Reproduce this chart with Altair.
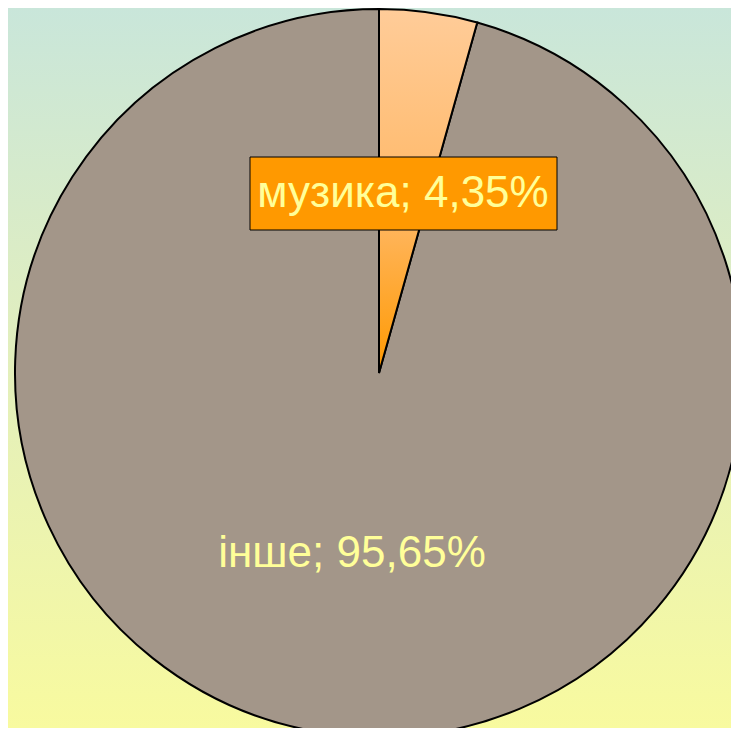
import altair as alt
import pandas as pd

categories = ["музика", "інше"]
values = [4.35, 95.65]
label_text_color = "#FFFF99"

df = pd.DataFrame({
    "category": categories,
    "value": values,
    "order": list(range(len(categories))),
})
df["label"] = [f"{c}; {v:.2f}%".replace(".", ",") for c, v in zip(categories, values)]

W, H = 723, 720
CX, CY, R = 371, 365, 364

bg_grad = {
    "gradient": "linear", "x1": 0, "y1": 0, "x2": 0, "y2": 1,
    "stops": [
        {"offset": 0, "color": "#C9E6DA"},
        {"offset": 0.5, "color": "#E3EFBC"},
        {"offset": 1, "color": "#F8FA9F"},
    ],
}
music_grad = {
    "gradient": "linear", "x1": 0, "y1": 0, "x2": 0, "y2": 1,
    "stops": [
        {"offset": 0, "color": "#FFCC99"},
        {"offset": 0.55, "color": "#FFB866"},
        {"offset": 1, "color": "#FF9900"},
    ],
}

bg = alt.Chart(pd.DataFrame({"a": [0]})).mark_rect(fill=bg_grad, strokeWidth=0).encode(
    x=alt.value(0), x2=alt.value(W), y=alt.value(0), y2=alt.value(H)
)

base = alt.Chart(df).transform_stack(
    stack="value", groupby=[], as_=["v0", "v1"], sort=[alt.SortField("order")]
)
theta_enc = alt.Theta("v0:Q", scale=alt.Scale(domain=[0, 100]))

other = base.transform_filter(alt.datum.category == "інше").mark_arc(
    x=CX, y=CY, radius=R, fill="#A39689", stroke="black", strokeWidth=2
).encode(theta=theta_enc, theta2="v1:Q")

music = base.transform_filter(alt.datum.category == "музика").mark_arc(
    x=CX, y=CY, radius=R, fill=music_grad, stroke="black", strokeWidth=2
).encode(theta=theta_enc, theta2="v1:Q")

box = alt.Chart(df).transform_filter(alt.datum.category == "музика").mark_rect(
    fill="#FF9900", stroke="black", strokeWidth=1
).encode(x=alt.value(242), x2=alt.value(549), y=alt.value(149), y2=alt.value(222))

music_label = alt.Chart(df).transform_filter(alt.datum.category == "музика").mark_text(
    font="Liberation Sans", fontSize=44, color=label_text_color, align="center", baseline="alphabetic"
).encode(text="label:N", x=alt.value(395), y=alt.value(199))

other_label = alt.Chart(df).transform_filter(alt.datum.category == "інше").mark_text(
    font="Liberation Sans", fontSize=44, color=label_text_color, align="center", baseline="alphabetic"
).encode(text="label:N", x=alt.value(344), y=alt.value(559))

chart = alt.layer(bg, other, music, box, music_label, other_label).properties(
    width=W, height=H, padding=0, autosize="none"
).configure_view(stroke=None)

chart.save("out.html", embed_options={"renderer": "svg", "actions": False})
